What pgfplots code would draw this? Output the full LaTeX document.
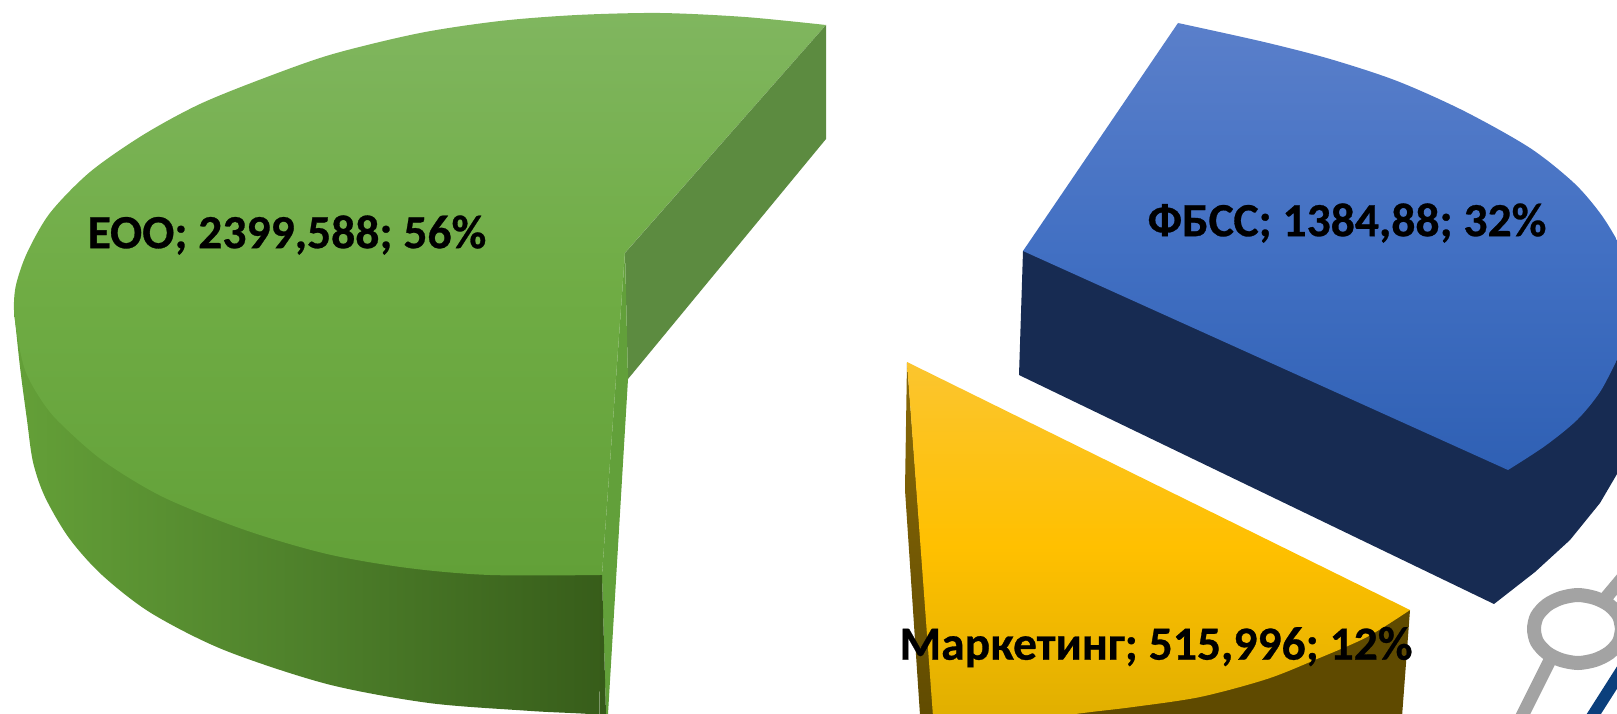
\documentclass[border=0pt]{standalone}
\usepackage{fontspec}
\setmainfont{Carlito}[BoldFeatures={FakeBold=0.6}]
\usepackage{pgfplots}
\pgfplotsset{compat=1.18}
\definecolor{gT}{HTML}{80B65F}
\definecolor{gM}{HTML}{6FAC44}
\definecolor{gB}{HTML}{62A038}
\definecolor{gSL}{HTML}{64A038}
\definecolor{gSM}{HTML}{4D7F2A}
\definecolor{gSR}{HTML}{365B19}
\definecolor{gFace}{HTML}{5C8B40}
\definecolor{gStrip}{HTML}{62A03A}
\definecolor{bT}{HTML}{5A7FCA}
\definecolor{bM}{HTML}{4270C3}
\definecolor{bB}{HTML}{2F60B4}
\definecolor{bS}{HTML}{172B52}
\definecolor{yT}{HTML}{FBC52F}
\definecolor{yM}{HTML}{FFC000}
\definecolor{yB}{HTML}{DEAE00}
\definecolor{yA}{HTML}{F4BA00}
\definecolor{yS}{HTML}{5F4A00}
\definecolor{yL}{HTML}{8A6A08}
\definecolor{ring}{HTML}{A3A3A3}
\definecolor{stripe}{HTML}{0B3F7C}
\begin{document}
\begin{tikzpicture}
\useasboundingbox (0,0) rectangle (1617pt,714pt);
\begin{axis}[
  at={(0,0)}, anchor=south west,
  width=1617pt, height=714pt, scale only axis,
  xmin=0, xmax=1617, ymin=0, ymax=714, y dir=reverse,
  hide axis, no markers, clip=true]
% --- green: outer side
\addplot[draw=none, left color=gSL, right color=gSR, middle color=gSM, smooth] coordinates {
 (14,310)(20,367)(27,420)(33,462)(45,497)(69,538)(102,575)(151,613)(224,650)(327,684)(429,703)(531,711)(608,716)(612,730)(600,730)(602,560)};
% --- green: top face
\addplot[draw=none, top color=gT, bottom color=gB, middle color=gM, smooth] coordinates {
 (826,25)(745,17)(660,13)(577,15)(500,21)(420,33)(333,54)(267,77)(200,104)(143,135)(90,172)(50,213)(27,253)(16,285)(14,310)(18,340)(25,370)(38,395)(57,420)(102,460)(163,497)(245,530)(327,554)(408,568)(490,575)(602,575)};
\addplot[draw=none, fill=white] coordinates {(827,24)(840,40)(612,590)(602,576)(625,253)(827,24)};
\addplot[draw=none, fill=gFace] coordinates {(826,25)(826,139)(628,379)(625,253)(826,25)};
\addplot[draw=none, fill=gStrip] coordinates {(625,253)(628,379)(608,714)(606,714)(602,575)(625,253)};
\addplot[draw=none, fill=gSR] coordinates {(602,575)(606,714)(600,714)(600,575)(602,575)};
% --- blue
\addplot[draw=none, fill=bS] coordinates {
 (1023,251)(1019,375)(1494,604)(1535,572)(1570,540)(1600,503)(1617,474)(1640,430)(1640,300)(1300,200)(1023,251)};
\addplot[draw=none, top color=bT, bottom color=bB, middle color=bM, smooth] coordinates {
 (1508,470)(1545,446)(1577,420)(1600,392)(1617,360)(1631,335)(1639,312)(1638,288)(1630,265)(1617,240)(1600,213)(1574,183)(1530,148)(1464,111)(1397,81)(1330,59)(1264,42)(1178,23)};
\addplot[draw=none, top color=bT, bottom color=bB, middle color=bM] coordinates {(1178,23)(1023,251)(1508,470)(1350,200)(1178,23)};
% --- yellow
\addplot[draw=none, fill=yS] coordinates {(1410,610)(1401,730)(925,730)(925,690)(1410,610)};
\addplot[draw=none, top color=yL, bottom color=yS] coordinates {(907,362)(905,490)(921,730)(935,730)(907,362)};
\addplot[draw=none, top color=yA, bottom color=yB, smooth] coordinates {
 (1410,610)(1367,637)(1317,659)(1267,679)(1200,697)(1133,707)(1083,713)(1000,724)(934,730)};
\addplot[draw=none, top color=yT, bottom color=yB, middle color=yM] coordinates {
 (907,362)(1410,610)(1200,696)(1000,723)(934,730)(907,362)};
% --- logo fragment
\addplot[draw=ring, line width=14pt, smooth] coordinates {
 (1622,629)(1619,642)(1609,653)(1595,660)(1578,663)(1561,660)(1547,653)(1537,642)(1534,629)(1537,616)(1547,605)(1561,598)(1578,595)(1595,598)(1609,605)(1619,616)(1622,629)};
\addplot[draw=ring, line width=13pt] coordinates {(1550,660)(1520,720)};
\addplot[draw=ring, line width=13pt] coordinates {(1604,600)(1625,575)};
\addplot[draw=stripe, line width=12pt] coordinates {(1590,720)(1625,665)};
% --- labels
\node[font=\fontsize{47.6}{50}\selectfont\bfseries, text=black, inner sep=0pt] at (axis cs:287,235) {ЕОО; 2399,588; 56\%};
\node[font=\fontsize{47.6}{50}\selectfont\bfseries, text=black, inner sep=0pt] at (axis cs:1347,223) {ФБСС; 1384,88; 32\%};
\node[font=\fontsize{47.6}{50}\selectfont\bfseries, text=black, inner sep=0pt] at (axis cs:1156,647) {Маркетинг; 515,996; 12\%};
\end{axis}
\end{tikzpicture}
\end{document}
